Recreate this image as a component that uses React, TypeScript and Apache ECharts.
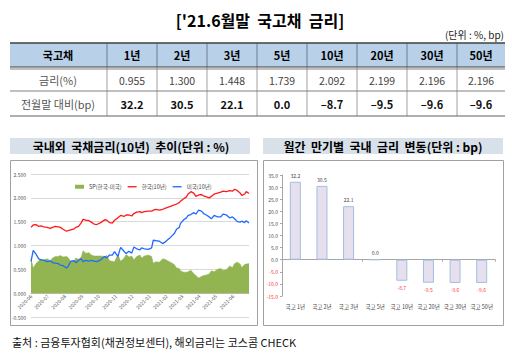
import React, { useEffect, useRef } from "react";
import * as echarts from "echarts";

const mainTitle = "['21.6월말  국고채  금리]";
const unitNote = "(단위 : %, bp)";
const rowHeads = ["국고채", "금리(%)", "전월말 대비(bp)"];
const tenors = ["1년", "2년", "3년", "5년", "10년", "20년", "30년", "50년"];
const rates = ["0.955", "1.300", "1.448", "1.739", "2.092", "2.199", "2.196", "2.196"];
const changes = [32.2, 30.5, 22.1, 0.0, -8.7, -9.5, -9.6, -9.6];
const barCategories = tenors.map((t) => "국고 " + t);

const leftTitle = "국내외  국채금리(10년)  추이(단위 : %)";
const rightTitle = "월간  만기별  국내  금리  변동(단위 : bp)";
const footer = "출처 : 금융투자협회(채권정보센터), 해외금리는 코스콤 CHECK";

const seriesNames = ["SP(한국-미국)", "한국(10년)", "미국(10년)"];

const dates = [
  "2020-06-01", "2020-06-05", "2020-06-10", "2020-06-15", "2020-06-19", "2020-06-24", "2020-06-30",
  "2020-07-06", "2020-07-10", "2020-07-15", "2020-07-20", "2020-07-24", "2020-07-29",
  "2020-08-04", "2020-08-07", "2020-08-12", "2020-08-18", "2020-08-21", "2020-08-26", "2020-08-31",
  "2020-09-03", "2020-09-08", "2020-09-14", "2020-09-18", "2020-09-23", "2020-09-28",
  "2020-10-05", "2020-10-12", "2020-10-16", "2020-10-21", "2020-10-26", "2020-10-30",
  "2020-11-05", "2020-11-10", "2020-11-16", "2020-11-20", "2020-11-25", "2020-11-30",
  "2020-12-04", "2020-12-09", "2020-12-15", "2020-12-18", "2020-12-23", "2020-12-30",
  "2021-01-05", "2021-01-08", "2021-01-13", "2021-01-19", "2021-01-25", "2021-01-29",
  "2021-02-03", "2021-02-08", "2021-02-15", "2021-02-19", "2021-02-24", "2021-02-26",
  "2021-03-04", "2021-03-09", "2021-03-12", "2021-03-17", "2021-03-22", "2021-03-26", "2021-03-31",
  "2021-04-05", "2021-04-09", "2021-04-14", "2021-04-19", "2021-04-23", "2021-04-28",
  "2021-05-04", "2021-05-10", "2021-05-14", "2021-05-20", "2021-05-26", "2021-05-31",
  "2021-06-04", "2021-06-09", "2021-06-14", "2021-06-17", "2021-06-22", "2021-06-25", "2021-06-30",
];

const korea = [
  1.38, 1.43, 1.44, 1.40, 1.41, 1.39, 1.38,
  1.36, 1.38, 1.40, 1.39, 1.38, 1.34,
  1.30, 1.31, 1.33, 1.35, 1.38, 1.40, 1.48,
  1.55, 1.53, 1.52, 1.49, 1.45, 1.44,
  1.48, 1.54, 1.53, 1.48, 1.47, 1.53,
  1.58, 1.63, 1.61, 1.64, 1.64, 1.62,
  1.67, 1.70, 1.71, 1.69, 1.71, 1.72,
  1.72, 1.74, 1.76, 1.74, 1.76, 1.78,
  1.80, 1.82, 1.85, 1.87, 1.90, 1.93,
  1.98, 2.02, 2.08, 2.13, 2.10, 2.03, 2.06,
  2.07, 2.04, 2.02, 2.00, 2.03, 2.08,
  2.10, 2.12, 2.14, 2.13, 2.15, 2.14,
  2.18, 2.15, 2.10, 2.05, 2.08, 2.13, 2.09,
];

const us = [
  0.66, 0.90, 0.82, 0.72, 0.70, 0.69, 0.66,
  0.68, 0.64, 0.63, 0.62, 0.59, 0.58,
  0.53, 0.56, 0.67, 0.68, 0.64, 0.69, 0.72,
  0.66, 0.69, 0.67, 0.69, 0.67, 0.66,
  0.70, 0.77, 0.74, 0.80, 0.80, 0.87,
  0.77, 0.96, 0.88, 0.83, 0.88, 0.84,
  0.97, 0.93, 0.91, 0.95, 0.93, 0.92,
  0.95, 1.11, 1.10, 1.09, 1.04, 1.07,
  1.12, 1.17, 1.25, 1.34, 1.38, 1.46,
  1.54, 1.58, 1.63, 1.65, 1.69, 1.66, 1.74,
  1.72, 1.67, 1.64, 1.60, 1.56, 1.63,
  1.60, 1.60, 1.66, 1.64, 1.58, 1.60,
  1.56, 1.50, 1.49, 1.51, 1.48, 1.52, 1.47,
];

const spread = [
  0.72, 0.53, 0.62, 0.68, 0.71, 0.70, 0.72,
  0.68, 0.74, 0.77, 0.77, 0.79, 0.76,
  0.77, 0.75, 0.66, 0.67, 0.74, 0.71, 0.76,
  0.89, 0.84, 0.85, 0.80, 0.78, 0.78,
  0.78, 0.77, 0.79, 0.68, 0.67, 0.66,
  0.81, 0.67, 0.73, 0.81, 0.76, 0.78,
  0.70, 0.77, 0.80, 0.74, 0.78, 0.80,
  0.77, 0.63, 0.66, 0.65, 0.72, 0.71,
  0.68, 0.65, 0.60, 0.53, 0.52, 0.47,
  0.44, 0.44, 0.45, 0.48, 0.41, 0.37, 0.32,
  0.35, 0.37, 0.38, 0.40, 0.47, 0.45,
  0.50, 0.52, 0.48, 0.49, 0.57, 0.54,
  0.62, 0.65, 0.61, 0.54, 0.60, 0.61, 0.62,
];

const axisStart = "2020-06-01";
const axisEnd = "2021-06-30";

const FONT = "'Noto Sans CJK KR', 'Noto Sans', sans-serif";
const GREEN = "#92b552";
const RED = "#ff1a1a";
const BLUE = "#1f6bff";

function text(x: number, y: number, t: string, size: number, extra: any = {}) {
  const align = extra.align || "center";
  return {
    type: "text",
    x,
    y,
    silent: true,
    z: 10,
    style: {
      text: t,
      fontFamily: FONT,
      fontSize: size,
      fontWeight: extra.weight || "normal",
      fill: extra.fill || "#000",
      align,
      textAlign: align,
      verticalAlign: "middle",
      textVerticalAlign: "middle",
    },
  };
}

function line(x1: number, y1: number, x2: number, y2: number, stroke: string, lw = 1) {
  return { type: "line", silent: true, z: 9, shape: { x1, y1, x2, y2 }, style: { stroke, lineWidth: lw } };
}

function buildGraphic() {
  const els: any[] = [];
  els.push(text(260, 20, mainTitle, 16, { weight: "bold" }));
  els.push(text(504, 34, unitNote, 10, { align: "right", fill: "#222" }));

  const colX = [10, 107, 157, 207, 257, 307, 357, 407, 457, 505];
  els.push({ type: "rect", silent: true, z: 8, shape: { x: 10, y: 43, width: 495, height: 24 }, style: { fill: "#b9d0e9" } });
  for (let i = 1; i < colX.length - 1; i++) {
    els.push(line(colX[i], 43, colX[i], 67, "#6f7f90", 1));
    els.push(line(colX[i], 67, colX[i], 116, "#a0a0a0", 1));
  }
  els.push(line(10, 43, 505, 43, "#404040", 1.5));
  els.push(line(10, 67, 505, 67, "#404040", 1));
  els.push(line(10, 69, 505, 69, "#808080", 1));
  els.push(line(10, 91, 505, 91, "#808080", 1));
  els.push(line(10, 116, 505, 116, "#606060", 1));

  const cy = [55, 80, 104];
  els.push(text(58, cy[0], rowHeads[0], 11, { weight: "bold" }));
  els.push(text(58, cy[1], rowHeads[1], 11, { fill: "#555" }));
  els.push(text(58, cy[2], rowHeads[2], 11, { fill: "#555" }));
  for (let i = 0; i < tenors.length; i++) {
    const cx = (colX[i + 1] + colX[i + 2]) / 2;
    els.push(text(cx, cy[0], tenors[i], 11, { weight: "bold" }));
    els.push(text(cx, cy[1], rates[i], 10.5, { fill: "#444" }));
    const c = changes[i];
    const s = c < 0 ? "–" + Math.abs(c).toFixed(1) : c.toFixed(1);
    els.push(text(cx, cy[2], s, 11, { weight: "bold", fill: "#111" }));
  }

  els.push({ type: "rect", silent: true, z: 8, shape: { x: 10, y: 138, width: 240, height: 16 }, style: { fill: "#d8e1ea" } });
  els.push(text(131, 146, leftTitle, 12, { weight: "bold" }));
  els.push({ type: "rect", silent: true, z: 8, shape: { x: 263, y: 138, width: 240, height: 16 }, style: { fill: "#d8e1ea" } });
  els.push(text(383, 146, rightTitle, 12, { weight: "bold" }));

  els.push({ type: "rect", silent: true, z: 1, shape: { x: 10.5, y: 160.5, width: 247, height: 165 }, style: { fill: "none", stroke: "#a0a0a0", lineWidth: 1 } });
  els.push({ type: "rect", silent: true, z: 1, shape: { x: 263.5, y: 160.5, width: 240, height: 165 }, style: { fill: "none", stroke: "#a0a0a0", lineWidth: 1 } });

  els.push(text(12, 342, footer, 11, { align: "left", fill: "#111" }));
  return els;
}

const pad2 = (n: number) => (n < 10 ? "0" + n : "" + n);

function buildOption(): any {
  const ts = dates.map((d) => +new Date(d));
  const day = 86400000;
  return {
    animation: false,
    useUTC: true,
    backgroundColor: "#fff",
    textStyle: { fontFamily: FONT },
    graphic: { elements: buildGraphic() },
    legend: {
      left: 70,
      top: 179,
      itemWidth: 9,
      itemHeight: 4,
      itemGap: 6,
      textStyle: { fontSize: 5.5, color: "#444", fontFamily: FONT },
      data: [
        { name: seriesNames[0], icon: "rect" },
        { name: seriesNames[1], icon: "path://M0,0H10V1.5H0Z" },
        { name: seriesNames[2], icon: "path://M0,0H10V1.5H0Z" },
      ],
    },
    grid: [
      { left: 31, right: 263, top: 174, bottom: 38 },
      { left: 282, right: 17, top: 175, bottom: 59 },
    ],
    xAxis: [
      {
        type: "time",
        gridIndex: 0,
        position: "bottom",
        offset: -24,
        min: +new Date(axisStart),
        max: +new Date(axisEnd),
        minInterval: 28 * day,
        maxInterval: 31 * day,
        splitNumber: 13,
        axisLine: { onZero: false, lineStyle: { color: "#bfbfbf", width: 1 } },
        axisTick: { show: false },
        splitLine: { show: false },
        axisLabel: {
          rotate: 45,
          fontSize: 5,
          color: "#555",
          margin: 2,
          hideOverlap: false,
          formatter: (v: number) => {
            const d = new Date(v);
            return d.getUTCFullYear() + "-" + pad2(d.getUTCMonth() + 1);
          },
        },
      },
      {
        type: "category",
        gridIndex: 1,
        position: "top",
        data: barCategories,
        axisLine: { onZero: true, lineStyle: { color: "#a6a6a6" } },
        axisTick: { show: true, inside: true, length: 2, lineStyle: { color: "#a6a6a6" } },
        axisLabel: { show: false },
      },
      {
        type: "category",
        gridIndex: 1,
        position: "bottom",
        data: barCategories,
        axisLine: { show: false, onZero: false },
        axisTick: { show: false },
        axisLabel: { fontSize: 5.5, color: "#444", margin: 8, interval: 0 },
      },
    ],
    yAxis: [
      {
        type: "value",
        gridIndex: 0,
        min: -0.5,
        max: 2.5,
        interval: 0.5,
        axisLine: { show: false },
        axisTick: { show: false },
        splitLine: { lineStyle: { color: "#d9d9d9", width: 1 } },
        axisLabel: { fontSize: 5, color: "#555", margin: 5, formatter: (v: number) => v.toFixed(3) },
      },
      {
        type: "value",
        gridIndex: 1,
        min: -15,
        max: 35,
        interval: 5,
        axisLine: { show: true, lineStyle: { color: "#a6a6a6" } },
        axisTick: { show: true, length: 2, lineStyle: { color: "#a6a6a6" } },
        splitLine: { show: false },
        axisLabel: {
          fontSize: 5,
          margin: 4,
          color: (v: any) => (Number(v) < 0 ? "#ff3333" : "#555"),
          formatter: (v: number) => v.toFixed(1),
        },
      },
    ],
    series: [
      {
        name: seriesNames[0],
        type: "line",
        xAxisIndex: 0,
        yAxisIndex: 0,
        data: ts.map((t, i) => [t, spread[i]]),
        showSymbol: false,
        symbol: "none",
        lineStyle: { width: 0.5, color: GREEN },
        itemStyle: { color: GREEN },
        areaStyle: { color: GREEN, opacity: 1 },
        z: 1,
      },
      {
        name: seriesNames[1],
        type: "line",
        xAxisIndex: 0,
        yAxisIndex: 0,
        data: ts.map((t, i) => [t, korea[i]]),
        showSymbol: false,
        symbol: "none",
        lineStyle: { width: 1.3, color: RED },
        itemStyle: { color: RED },
        z: 3,
      },
      {
        name: seriesNames[2],
        type: "line",
        xAxisIndex: 0,
        yAxisIndex: 0,
        data: ts.map((t, i) => [t, us[i]]),
        showSymbol: false,
        symbol: "none",
        lineStyle: { width: 1.3, color: BLUE },
        itemStyle: { color: BLUE },
        z: 2,
      },
      {
        type: "bar",
        xAxisIndex: 1,
        yAxisIndex: 1,
        barWidth: 11,
        data: changes.map((v) => ({
          value: v,
          label: {
            show: true,
            position: v < 0 ? "bottom" : "top",
            distance: 4,
            fontSize: 5,
            color: v < 0 ? "#ff3333" : "#444",
            formatter: (p: any) => Number(p.value).toFixed(1),
          },
        })),
        itemStyle: { color: "#e6e0ee", borderColor: "#a3bde0", borderWidth: 1 },
      },
    ],
  };
}

export default function App() {
  const ref = useRef<HTMLDivElement>(null);
  useEffect(() => {
    if (!ref.current) return;
    const chart = echarts.init(ref.current, undefined, { renderer: "svg", width: 512, height: 355 });
    chart.setOption(buildOption());
    return () => chart.dispose();
  }, []);
  return (
    <div
      ref={ref}
      style={{ position: "absolute", left: 0, top: 0, width: 512, height: 355, background: "#fff" }}
    />
  );
}
